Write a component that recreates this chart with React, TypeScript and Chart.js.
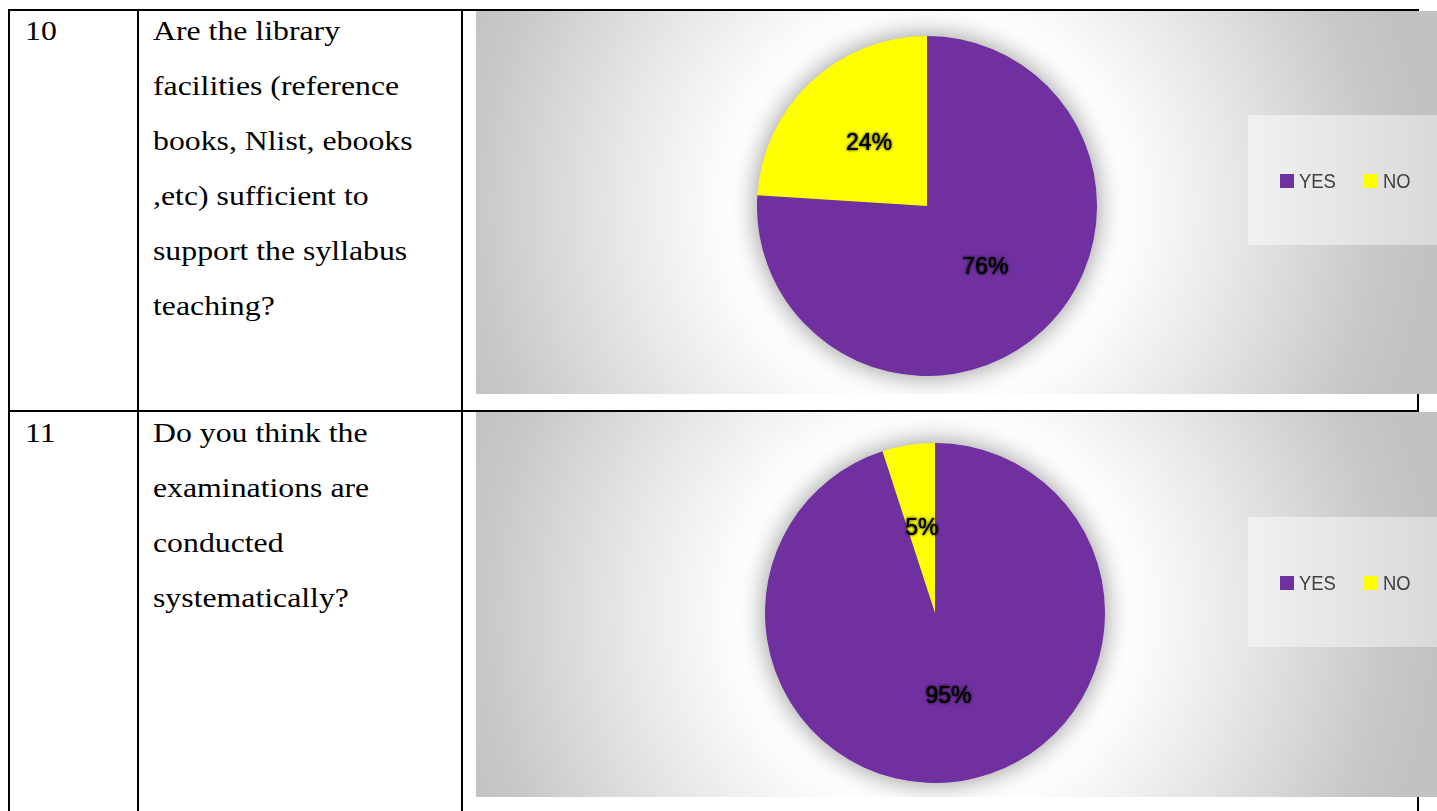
import React, { useEffect, useRef } from "react";
import { Chart, registerables } from "chart.js";

Chart.register(...registerables);

// ---- data ----
const categories = ["YES", "NO"];
const q10Values = [76, 24];
const q11Values = [95, 5];
const sliceColors = ["#7030A0", "#FFFF00"];
const rowNumbers = ["10", "11"];
const q10Lines = [
  "Are the library",
  "facilities (reference",
  "books, Nlist, ebooks",
  ",etc) sufficient to",
  "support the syllabus",
  "teaching?",
];
const q11Lines = [
  "Do you think the",
  "examinations are",
  "conducted",
  "systematically?",
];

type Pad = { top: number; bottom: number; left: number; right: number };

const CANVAS_W = 965;

function PieChart(props: { values: number[]; height: number; pad: Pad; legendTop: number }) {
  const ref = useRef<HTMLCanvasElement | null>(null);
  useEffect(() => {
    const canvas = ref.current;
    if (!canvas) return;
    const { values, pad, legendTop } = props;

    const bgPlugin = {
      id: "bgPlugin",
      beforeDraw(chart: any) {
        const ctx = chart.ctx;
        const meta = chart.getDatasetMeta(0);
        const arc = meta.data[0];
        const cx = arc ? arc.x : chart.width / 2;
        const cy = arc ? arc.y : chart.height / 2;
        ctx.save();
        const g = ctx.createRadialGradient(cx, cy, 0, cx, cy, 500);
        g.addColorStop(0, "#ffffff");
        g.addColorStop(0.38, "#ffffff");
        g.addColorStop(0.6, "#e9e9e9");
        g.addColorStop(0.9, "#c8c8c8");
        g.addColorStop(1, "#c2c2c2");
        ctx.fillStyle = g;
        ctx.fillRect(0, 0, chart.width, chart.height);
        // legend box
        const lx = 772;
        const lw = chart.width - lx;
        const lg = ctx.createLinearGradient(lx, 0, lx + 190, 0);
        lg.addColorStop(0, "#f1f1f1");
        lg.addColorStop(1, "#d9d9d9");
        ctx.fillStyle = lg;
        ctx.fillRect(lx, legendTop, lw, 130);
        ctx.restore();
      },
      beforeDatasetsDraw(chart: any) {
        const ctx = chart.ctx;
        const arc = chart.getDatasetMeta(0).data[0];
        if (!arc) return;
        ctx.save();
        ctx.shadowColor = "rgba(0,0,0,0.45)";
        ctx.shadowBlur = 28;
        ctx.fillStyle = sliceColors[0];
        ctx.beginPath();
        ctx.arc(arc.x, arc.y, arc.outerRadius - 0.5, 0, Math.PI * 2);
        ctx.fill();
        ctx.restore();
      },
      afterDatasetsDraw(chart: any) {
        const ctx = chart.ctx;
        const meta = chart.getDatasetMeta(0);
        const data = chart.data.datasets[0].data as number[];
        ctx.save();
        ctx.font = "23px 'Liberation Sans', Arial, sans-serif";
        ctx.textAlign = "center";
        ctx.textBaseline = "middle";
        ctx.fillStyle = "#000000";
        ctx.shadowColor = "rgba(0,0,0,0.6)";
        ctx.shadowBlur = 3;
        meta.data.forEach((el: any, i: number) => {
          const p = el.tooltipPosition(false);
          const t = data[i] + "%";
          ctx.fillText(t, p.x, p.y);
          ctx.fillText(t, p.x + 0.4, p.y);
        });
        ctx.restore();
      },
      afterDraw(chart: any) {
        const ctx = chart.ctx;
        const labels = chart.data.labels as string[];
        const colors = chart.data.datasets[0].backgroundColor as string[];
        const cy = legendTop + 66;
        const xs = [804, 888];
        ctx.save();
        ctx.font = "20px 'Liberation Sans', Arial, sans-serif";
        ctx.textBaseline = "middle";
        ctx.textAlign = "left";
        labels.forEach((lab, i) => {
          ctx.fillStyle = colors[i];
          ctx.fillRect(xs[i], cy - 7, 14, 14);
          ctx.fillStyle = "#404040";
          ctx.save();
          ctx.translate(xs[i] + 19, cy + 1);
          ctx.scale(0.92, 1);
          ctx.fillText(lab, 0, 0);
          ctx.restore();
        });
        ctx.restore();
      },
    };

    const chart = new Chart(canvas, {
      type: "pie",
      data: {
        labels: categories,
        datasets: [
          {
            data: values,
            backgroundColor: sliceColors,
            borderWidth: 0,
            hoverOffset: 0,
          },
        ],
      },
      options: {
        responsive: false,
        animation: false,
        devicePixelRatio: 1,
        layout: { padding: pad },
        plugins: {
          legend: { display: false },
          tooltip: { enabled: false },
        },
        events: [],
      },
      plugins: [bgPlugin],
    });
    return () => chart.destroy();
  }, []);
  return (
    <canvas
      ref={ref}
      width={CANVAS_W}
      height={props.height}
      style={{ width: CANVAS_W, height: props.height, display: "block" }}
    />
  );
}

const line = (s: React.CSSProperties): React.CSSProperties => ({
  position: "absolute",
  background: "#000",
  ...s,
});

const textStyle: React.CSSProperties = {
  position: "absolute",
  fontFamily: "'Liberation Serif', 'Times New Roman', serif",
  fontSize: 28,
  lineHeight: "55px",
  color: "#000",
  whiteSpace: "nowrap",
  transform: "scaleX(1.135)",
  transformOrigin: "left top",
};

export default function App() {
  return (
    <div
      style={{
        position: "fixed",
        left: 0,
        top: 0,
        width: 1437,
        height: 811,
        overflow: "hidden",
        background: "#fff",
      }}
    >
      {/* table grid */}
      <div style={line({ left: 8, top: 9, width: 1411, height: 2 })} />
      <div style={line({ left: 8, top: 410, width: 1411, height: 2 })} />
      <div style={line({ left: 8, top: 9, width: 2, height: 810 })} />
      <div style={line({ left: 137, top: 9, width: 2, height: 810 })} />
      <div style={line({ left: 461, top: 9, width: 2, height: 810 })} />
      <div style={line({ left: 1417, top: 9, width: 2, height: 810 })} />

      {/* row 10 */}
      <div style={{ ...textStyle, left: 25, top: 3 }}>{rowNumbers[0]}</div>
      <div style={{ ...textStyle, left: 153, top: 3 }}>
        {q10Lines.map((l, i) => (
          <div key={i}>{l}</div>
        ))}
      </div>
      <div style={{ position: "absolute", left: 476, top: 11 }}>
        <PieChart
          values={q10Values}
          height={383}
          pad={{ top: 25, bottom: 18, left: 281, right: CANVAS_W - 621 }}
          legendTop={104}
        />
      </div>

      {/* row 11 */}
      <div style={{ ...textStyle, left: 25, top: 405 }}>{rowNumbers[1]}</div>
      <div style={{ ...textStyle, left: 153, top: 405 }}>
        {q11Lines.map((l, i) => (
          <div key={i}>{l}</div>
        ))}
      </div>
      <div style={{ position: "absolute", left: 476, top: 412 }}>
        <PieChart
          values={q11Values}
          height={385}
          pad={{ top: 31, bottom: 14, left: 289, right: CANVAS_W - 629 }}
          legendTop={105}
        />
      </div>
    </div>
  );
}
